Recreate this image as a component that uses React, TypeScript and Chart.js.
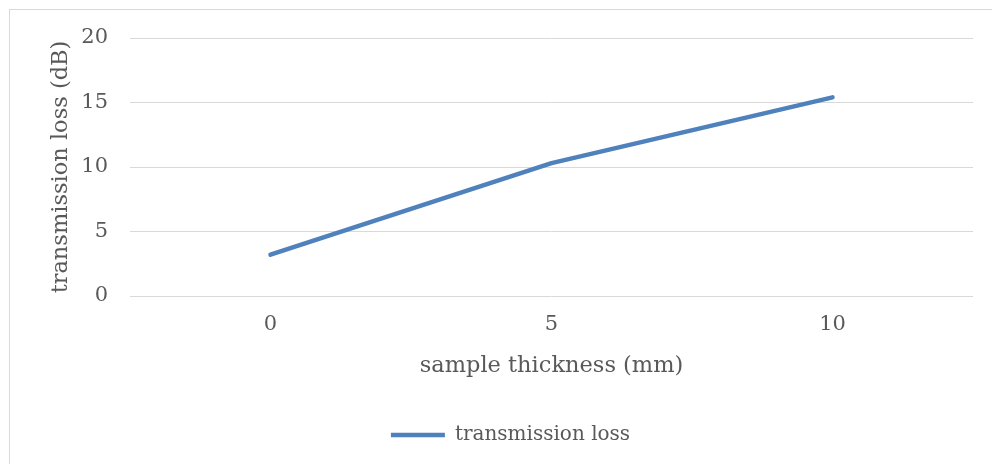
import React, { useEffect, useRef } from "react";
import { Chart, registerables } from "chart.js";
Chart.register(...registerables);

const categories = ["0", "5", "10"];
const lossValues = [3.2, 10.3, 15.4];
const yMin = 0;
const yMax = 20;
const yStep = 5;
const seriesName = "transmission loss";
const xTitle = "sample thickness (mm)";
const yTitle = "transmission loss (dB)";

const FONT = "'DejaVu Serif', serif";
const TEXT = "#595959";
const GRID = "#d9d9d9";
const BLUE = "#4F81BD";

const framePlugin = {
  id: "frame",
  beforeDraw(chart: any) {
    const { ctx, width, height } = chart;
    ctx.save();
    ctx.fillStyle = "#ffffff";
    ctx.fillRect(0, 0, width, height);
    ctx.strokeStyle = GRID;
    ctx.lineWidth = 1;
    ctx.strokeRect(9.5, 9.5, width + 20, height + 20);
    ctx.restore();
  },
};

export default function App() {
  const ref = useRef<HTMLCanvasElement>(null);
  useEffect(() => {
    const chart = new Chart(ref.current as HTMLCanvasElement, {
      type: "line",
      data: {
        labels: categories,
        datasets: [
          {
            label: seriesName,
            data: lossValues,
            borderColor: BLUE,
            backgroundColor: BLUE,
            borderWidth: 4.5,
            borderCapStyle: "round",
            borderJoinStyle: "round",
            pointRadius: 0,
            pointHoverRadius: 0,
            pointStyle: "line",
            tension: 0,
          } as any,
        ],
      },
      options: {
        animation: false,
        responsive: false,
        devicePixelRatio: 1,
        layout: { padding: { left: 48, right: 19, top: 38, bottom: 9 } },
        plugins: {
          legend: {
            position: "bottom",
            labels: {
              usePointStyle: true,
              pointStyleWidth: 54,
              color: TEXT,
              font: { family: FONT, size: 20 },
              padding: 10,
            },
          },
          tooltip: { enabled: false },
        },
        scales: {
          x: {
            offset: true,
            grid: { display: false, drawTicks: false },
            border: { display: false },
            ticks: { color: TEXT, font: { family: FONT, size: 21 }, padding: 16, maxRotation: 0 },
            title: {
              display: true,
              text: xTitle,
              color: TEXT,
              font: { family: FONT, size: 22.5 },
              padding: { top: 0, bottom: 35.5 },
            },
            afterFit: (s: any) => {
              s.height = 119;
            },
          },
          y: {
            min: yMin,
            max: yMax,
            ticks: { stepSize: yStep, color: TEXT, font: { family: FONT, size: 21 }, padding: 22 },
            grid: { color: GRID, drawTicks: false, lineWidth: 1 },
            border: { display: false },
            title: { display: true, text: yTitle, color: TEXT, font: { family: FONT, size: 22.5 }, padding: 0 },
            afterFit: (s: any) => {
              s.width = 82;
            },
          },
        },
      },
      plugins: [framePlugin],
    });
    return () => chart.destroy();
  }, []);
  return (
    <div style={{ position: "absolute", left: 0, top: 0, width: 992, height: 464, overflow: "hidden" }}>
      <canvas ref={ref} width={992} height={464} style={{ display: "block" }} />
    </div>
  );
}
